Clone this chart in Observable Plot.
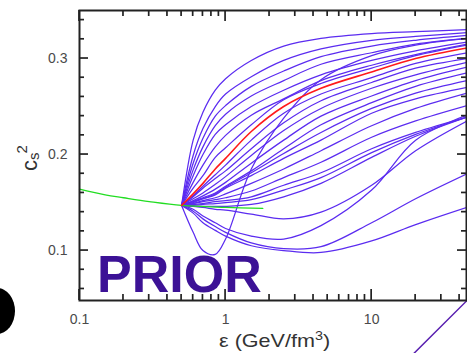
<!DOCTYPE html>
<html><head><meta charset="utf-8">
<script src="https://cdn.jsdelivr.net/npm/d3@7"></script>
<script src="https://cdn.jsdelivr.net/npm/@observablehq/plot@0.6"></script>
<style>
html,body{margin:0;padding:0;background:#fff;overflow:hidden;}
</style>
</head><body><div id="chart"></div>
<script>
// ε grid (GeV/fm^3) on which every sampled EoS curve is read
const epsGrid = [0.5, 0.6, 0.7, 0.85, 1, 1.5, 2.5, 4.5, 10, 20, 45];

// purple prior samples: c_s^2 at epsGrid
const purpleCurves = [
  [0.147, 0.215, 0.244, 0.267, 0.279, 0.298, 0.313, 0.321, 0.326, 0.328, 0.330],
  [0.147, 0.199, 0.227, 0.250, 0.263, 0.281, 0.298, 0.310, 0.319, 0.323, 0.327],
  [0.147, 0.191, 0.217, 0.240, 0.251, 0.271, 0.287, 0.302, 0.313, 0.319, 0.324],
  [0.147, 0.184, 0.208, 0.230, 0.242, 0.261, 0.277, 0.294, 0.306, 0.315, 0.321],
  [0.147, 0.178, 0.200, 0.221, 0.231, 0.250, 0.267, 0.283, 0.298, 0.308, 0.317],
  [0.147, 0.171, 0.189, 0.208, 0.220, 0.241, 0.258, 0.277, 0.293, 0.304, 0.315],
  [0.147, 0.165, 0.178, 0.197, 0.207, 0.231, 0.257, 0.274, 0.290, 0.303, 0.314],
  [0.147, 0.157, 0.167, 0.179, 0.189, 0.215, 0.243, 0.263, 0.280, 0.295, 0.306],
  [0.147, 0.156, 0.165, 0.175, 0.183, 0.206, 0.233, 0.256, 0.275, 0.290, 0.300],
  [0.147, 0.154, 0.160, 0.169, 0.177, 0.199, 0.225, 0.248, 0.269, 0.283, 0.296],
  [0.147, 0.152, 0.157, 0.164, 0.171, 0.191, 0.215, 0.240, 0.261, 0.277, 0.291],
  [0.147, 0.151, 0.155, 0.160, 0.167, 0.183, 0.206, 0.231, 0.254, 0.271, 0.285],
  [0.147, 0.151, 0.154, 0.159, 0.166, 0.181, 0.201, 0.223, 0.248, 0.264, 0.277],
  [0.147, 0.150, 0.154, 0.158, 0.165, 0.178, 0.196, 0.215, 0.243, 0.258, 0.270],
  [0.147, 0.149, 0.152, 0.155, 0.159, 0.170, 0.185, 0.204, 0.230, 0.248, 0.264],
  [0.147, 0.149, 0.151, 0.153, 0.155, 0.162, 0.176, 0.192, 0.218, 0.235, 0.251],
  [0.147, 0.148, 0.149, 0.151, 0.152, 0.156, 0.168, 0.181, 0.206, 0.223, 0.239],
  [0.147, 0.147, 0.148, 0.149, 0.150, 0.153, 0.163, 0.176, 0.202, 0.221, 0.239],
  [0.147, 0.146, 0.146, 0.146, 0.146, 0.148, 0.156, 0.170, 0.197, 0.219, 0.239],
  [0.147, 0.146, 0.145, 0.143, 0.142, 0.138, 0.133, 0.140, 0.168, 0.204, 0.235],
  [0.147, 0.143, 0.136, 0.129, 0.123, 0.115, 0.112, 0.126, 0.163, 0.215, 0.241],
  [0.147, 0.141, 0.133, 0.125, 0.119, 0.108, 0.102, 0.104, 0.129, 0.154, 0.180],
  [0.147, 0.139, 0.129, 0.121, 0.115, 0.105, 0.100, 0.098, 0.110, 0.127, 0.145],
  [0.147, 0.119, 0.100, 0.096, 0.112, 0.185, 0.238, 0.278, 0.303, 0.314, 0.321]
];

// highlighted (red) sample
const redCurve = [0.147, 0.159, 0.170, 0.185, 0.196, 0.224, 0.250, 0.269, 0.286, 0.300, 0.311];

// hadronic (green) segment
const greenEps = [0.1, 0.15, 0.2, 0.3, 0.5, 1, 1.8];
const greenCs2 = [0.164, 0.158, 0.155, 0.151, 0.147, 0.145, 0.144];

// stray curve from the neighbouring panel (bottom-right corner)
const strayEps = [19.5, 45];
const strayCs2 = [-0.007, 0.048];

// axis ticks
const xMajor = [0.1, 1, 10];
const xMinor = [0.2,0.3,0.4,0.5,0.6,0.7,0.8,0.9,2,3,4,5,6,7,8,9,20,30,40];
const yMajor = [0.1, 0.2, 0.3];
const yMinor = [0.06,0.08,0.12,0.14,0.16,0.18,0.22,0.24,0.26,0.28,0.32,0.34];

const purpleRows = purpleCurves.flatMap((c, i) => epsGrid.map((e, j) => ({id: i, eps: e, cs2: c[j]})));
const redRows = epsGrid.map((e, j) => ({eps: e, cs2: redCurve[j]}));
const greenRows = greenEps.map((e, j) => ({eps: e, cs2: greenCs2[j]}));
const strayRows = strayEps.map((e, j) => ({eps: e, cs2: strayCs2[j]}));

const font = "'Liberation Sans', Arial, Helvetica, sans-serif";
const plot = Plot.plot({
  width: 467, height: 353,
  marginLeft: 79, marginRight: 1, marginTop: 10, marginBottom: 53,
  x: {type: "log", domain: [0.1, 44.6], axis: null},
  y: {domain: [0.048, 0.35], axis: null},
  style: {fontFamily: font, background: "#fff", overflow: "visible"},
  marks: [
    Plot.line(purpleRows, {x: "eps", y: "cs2", z: "id", stroke: "#5b2cf0", strokeWidth: 1.25, curve: "catmull-rom"}),
    Plot.line(greenRows, {x: "eps", y: "cs2", stroke: "#22dd22", strokeWidth: 1.3, curve: "catmull-rom"}),
    Plot.line(redRows, {x: "eps", y: "cs2", stroke: "#ff1a1a", strokeWidth: 1.6, curve: "catmull-rom"}),
    Plot.line(strayRows, {x: "eps", y: "cs2", stroke: "#5a22b0", strokeWidth: 1.5}),
    Plot.frame({stroke: "#222", strokeWidth: 2}),
    Plot.axisX(xMajor, {anchor: "bottom", tickSize: 0, tickPadding: 14, tickFormat: d => String(d), fontSize: 14, fill: "#4a4a4a", label: null}),
    Plot.axisY(yMajor, {anchor: "left", tickSize: 0, tickPadding: 12, tickFormat: d => d.toFixed(1), fontSize: 14, fill: "#4a4a4a", label: null})
  ]
});
document.getElementById("chart").appendChild(plot);

// inward ticks on all four sides, placed with the plot's own scales
const sx = plot.scale("x"), sy = plot.scale("y");
const [xL, xR] = sx.range;
const [yB, yT] = sy.range;
const svg = d3.select(plot);
const g = svg.append("g").attr("stroke", "#222").attr("stroke-width", 1.7).attr("fill", "none");
function xt(v, len) {
  const px = sx.apply(v);
  g.append("line").attr("x1", px).attr("x2", px).attr("y1", yB).attr("y2", yB - len);
  g.append("line").attr("x1", px).attr("x2", px).attr("y1", yT).attr("y2", yT + len);
}
function yt(v, len) {
  const py = sy.apply(v);
  g.append("line").attr("y1", py).attr("y2", py).attr("x1", xL).attr("x2", xL + len);
  g.append("line").attr("y1", py).attr("y2", py).attr("x1", xR).attr("x2", xR - len);
}
xMajor.forEach(v => xt(v, 11));
xMinor.forEach(v => xt(v, 6));
yMajor.forEach(v => yt(v, 9));
yMinor.forEach(v => yt(v, 5));

// PRIOR label
svg.append("text").attr("x", 97).attr("y", 292).attr("text-anchor", "start")
  .attr("font-family", font).attr("font-weight", "bold").attr("font-size", 52)
  .attr("fill", "#3c1296").text("PRIOR");

// x-axis title
const xt2 = svg.append("text").attr("transform", "translate(219,347) scale(1.2,1)").attr("text-anchor", "start")
  .attr("font-family", font).attr("font-size", 18).attr("fill", "#333");
xt2.append("tspan").text("ε (GeV/fm");
xt2.append("tspan").attr("font-size", 12).attr("dy", -7).text("3");
xt2.append("tspan").attr("dy", 7).text(")");

// y-axis title c_s^2
const yl = svg.append("text").attr("transform", "translate(37,171) rotate(-90)").attr("text-anchor", "start")
  .attr("font-family", font).attr("font-size", 22).attr("fill", "#333");
yl.append("tspan").text("c");
yl.append("tspan").attr("font-size", 15).attr("dy", 2).text("s");
yl.append("tspan").attr("font-size", 15).attr("dy", -12).attr("dx", -1).text("2");

// clipped bold panel mark at the left edge (only its right side is in view)
svg.append("ellipse").attr("cx", -3).attr("cy", 311).attr("rx", 18).attr("ry", 23).attr("fill", "#000");
</script>
</body></html>
